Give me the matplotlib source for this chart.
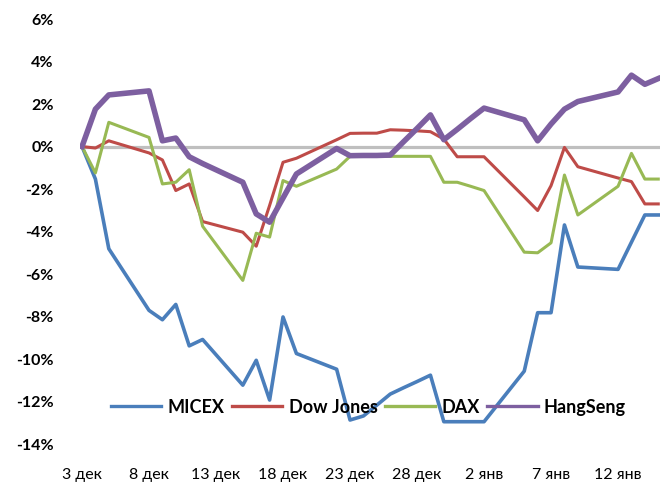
import matplotlib
matplotlib.use("Agg")
import matplotlib.pyplot as plt

# trading days, counted from 3 Dec
days = [0, 1, 2, 5, 6, 7, 8, 9, 12, 13, 14, 15, 16, 19, 20, 21, 22, 23, 24, 25,
        26, 27, 28, 29, 30, 33, 34, 35, 36, 37, 40, 41, 42, 43]

micex = [0, -1.53, -4.81, -7.71, -8.15, -7.43, -9.38, -9.08, -11.23, -10.06,
         -11.93, -8.02, -9.74, -10.48, -12.87, -12.68, -12.17, -11.65, -11.35, -11.06,
         -10.76, -12.95, -12.95, -12.95, -12.95, -10.57, -7.82, -7.82, -3.69, -5.67,
         -5.78, -4.5, -3.22, -3.22]
dow = [0, -0.07, 0.27, -0.3, -0.63, -2.07, -1.76, -3.53, -4.03, -4.69,
       -2.77, -0.74, -0.55, 0.32, 0.62, 0.63, 0.63, 0.79, 0.77, 0.74,
       0.70, 0.35, -0.48, -0.48, -0.48, -2.37, -3.01, -1.84, -0.04, -0.95,
       -1.48, -1.65, -2.70, -2.70]
dax = [0, -1.24, 1.14, 0.43, -1.76, -1.68, -1.09, -3.75, -6.30, -4.08,
       -4.26, -1.60, -1.87, -1.06, -0.46, -0.46, -0.46, -0.46, -0.46, -0.46,
       -0.46, -1.68, -1.68, -1.87, -2.07, -4.97, -5.0, -4.53, -1.34, -3.22,
       -1.87, -0.32, -1.53, -1.53]
hangseng = [0, 1.76, 2.43, 2.62, 0.27, 0.40, -0.48, -0.80, -1.68, -3.17,
            -3.56, -2.42, -1.29, -0.09, -0.43, -0.42, -0.42, -0.40, 0.23, 0.85,
            1.49, 0.32, 0.81, 1.32, 1.81, 1.26, 0.27, 1.06, 1.76, 2.12,
            2.57, 3.36, 2.93, 3.2]

tick_days = [0, 5, 10, 15, 20, 25, 30, 35, 40]
tick_labels = ["3 дек", "8 дек", "13 дек", "18 дек", "23 дек", "28 дек",
               "2 янв", "7 янв", "12 янв"]

plt.rcParams['font.family'] = ['Lato', 'DejaVu Sans']

fig = plt.figure(figsize=(6.6, 4.84), dpi=100)
ax = fig.add_axes([0.1212, 0.0826, 0.8788, 0.878])

ax.axhline(0, color='#BFBFBF', lw=2.3, zorder=1)
ax.plot(days, micex, color='#4A7EBB', lw=2.6, label='MICEX', zorder=3)
ax.plot(days, dow, color='#BE4B48', lw=2.2, label='Dow Jones', zorder=3)
ax.plot(days, dax, color='#98B954', lw=2.2, label='DAX', zorder=3)
ax.plot(days, hangseng, color='#7D5FA0', lw=4.0, label='HangSeng', zorder=4)

ax.set_xlim(-0.15, 43.13)
ax.set_ylim(-14, 6)
ax.set_yticks(range(-14, 7, 2))
ax.set_yticklabels([f"{v}%" for v in range(-14, 7, 2)], fontweight='bold', fontsize=11.5)
ax.set_xticks(tick_days)
ax.set_xticklabels(tick_labels, fontsize=11.5)
ax.tick_params(axis='y', length=0, pad=19)
ax.tick_params(axis='x', length=0, pad=17.5)
for s in ax.spines.values():
    s.set_visible(False)

leg = fig.legend(loc='center', bbox_to_anchor=(0.558, 0.159), ncol=4, frameon=False,
                 prop={'weight': 'bold', 'size': 13}, handlelength=2.8,
                 handletextpad=0.35, columnspacing=0.4)
for h in leg.legend_handles:
    h.set_linewidth(2.4)

fig.savefig("out.png", dpi=100)
